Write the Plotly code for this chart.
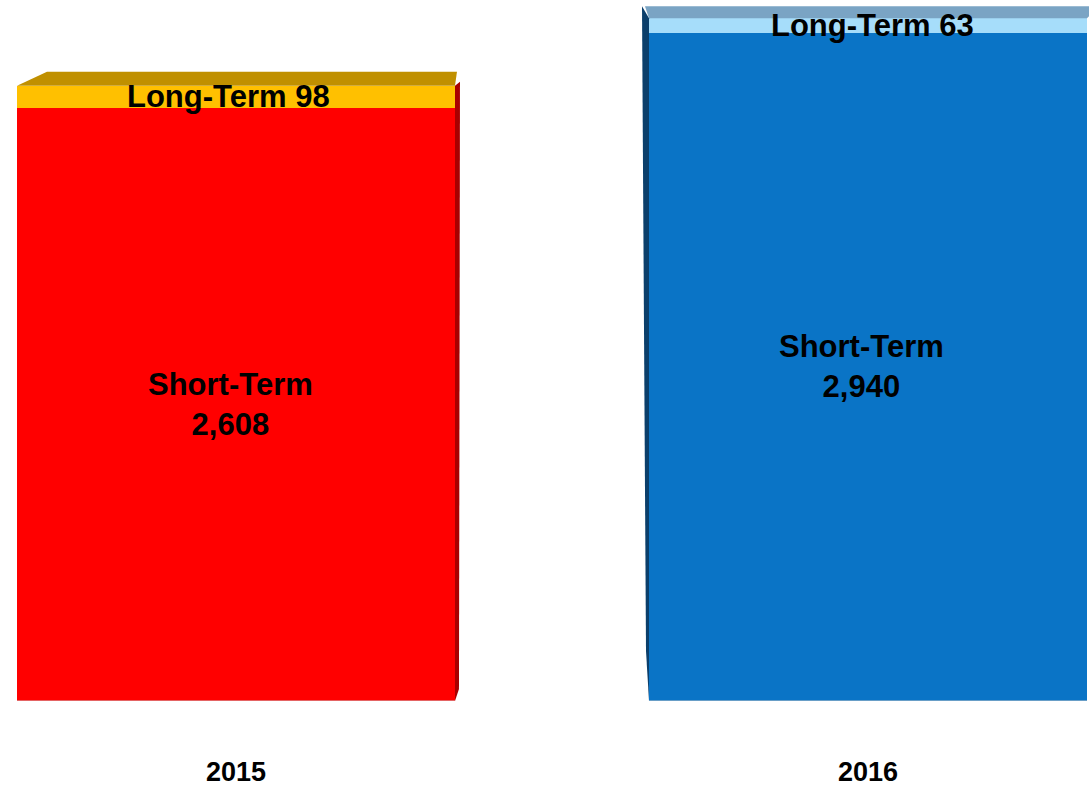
import plotly.graph_objects as go

# ---- data ----
years = ["2015", "2016"]
short_term = [2608, 2940]
long_term = [98, 63]
short_labels = ["2,608", "2,940"]

# ---- styles ----
short_colors = ["#FF0000", "#0A74C6"]
long_colors = ["#FFC000", "#A6DDFA"]
top_colors = ["#C09000", "#7AA4C4"]
side_colors = ["#A80000", "#0B3F6B"]
side_on = ["right", "left"]
top_dx_left = [30, -4]     # px
top_dx_right = [2, 12]     # px
top_dy = [14, 12]          # px
short_xshift = [-5, -6]
long_xshift = [-7, 5]

W, H = 1089, 788
MB = 87
y_max = 3083
bar_width = 0.693
x_range = [-0.3734, 1.3497]
x_pos = [0, 1]

ux = (x_range[1] - x_range[0]) / W      # data units per pixel (x)
uy = y_max / (H - MB)                   # data units per pixel (y)

fig = go.Figure()
fig.add_trace(go.Bar(x=x_pos, y=short_term, width=bar_width,
                     marker=dict(color=short_colors, line=dict(width=0)),
                     hoverinfo="skip"))
fig.add_trace(go.Bar(x=x_pos, y=long_term, width=bar_width,
                     marker=dict(color=long_colors, line=dict(width=0)),
                     hoverinfo="skip"))

shapes = []
annotations = []
font_lbl = dict(family="Liberation Sans, Arial, sans-serif", size=31, color="#000000", weight="bold")
for i, p in enumerate(x_pos):
    s, l = short_term[i], long_term[i]
    total = s + l
    x0, x1 = p - bar_width / 2, p + bar_width / 2
    # top face
    path = (f"M {x0},{total} L {x0 + top_dx_left[i]*ux},{total + top_dy[i]*uy} "
            f"L {x1 + top_dx_right[i]*ux},{total + top_dy[i]*uy} L {x1},{total} Z")
    shapes.append(dict(type="path", path=path, fillcolor=top_colors[i],
                       line=dict(width=0), layer="above"))
    # side face
    if side_on[i] == "right":
        spath = (f"M {x1},{total} L {x1 + 5*ux},{total + 4*uy} "
                 f"L {x1 + 4*ux},{12*uy} L {x1},0 Z")
    else:
        spath = (f"M {x0},0 L {x0},{total} L {x0 - 7*ux},{total + top_dy[i]*uy} "
                 f"L {x0 - 3*ux},{50*uy} L {x0},0 Z")
    shapes.append(dict(type="path", path=spath, fillcolor=side_colors[i],
                       line=dict(width=0), layer="above"))
    # bottom edge line
    shapes.append(dict(type="line", x0=x0, x1=x1, y0=0, y1=0,
                       line=dict(color="#C8C8C8", width=1), layer="above"))
    annotations.append(dict(x=p, y=s / 2, text=f"Short-Term<br>{short_labels[i]}",
                            xshift=short_xshift[i],
                            showarrow=False, font=font_lbl, xanchor="center", yanchor="middle"))
    annotations.append(dict(x=p, y=s + l / 2, text=f"Long-Term {l}",
                            xshift=long_xshift[i],
                            showarrow=False, font=font_lbl, xanchor="center", yanchor="middle"))

fig.update_layout(
    width=W, height=H,
    barmode="stack",
    showlegend=False,
    bargap=0,
    margin=dict(l=0, r=0, t=0, b=MB, pad=0, autoexpand=False),
    paper_bgcolor="white", plot_bgcolor="white",
    shapes=shapes, annotations=annotations,
    xaxis=dict(range=x_range, tickmode="array", tickvals=x_pos, ticktext=years,
               showgrid=False, zeroline=False, showline=False, ticks="",
               ticklabelstandoff=52,
               tickfont=dict(family="Liberation Sans, Arial, sans-serif", size=27,
                             color="#000000", weight="bold")),
    yaxis=dict(range=[0, y_max], visible=False, showgrid=False, zeroline=False),
)

fig.write_html("out.html", config={"displayModeBar": False},
               post_script="document.body.style.margin='0';document.body.style.overflow='hidden';")
